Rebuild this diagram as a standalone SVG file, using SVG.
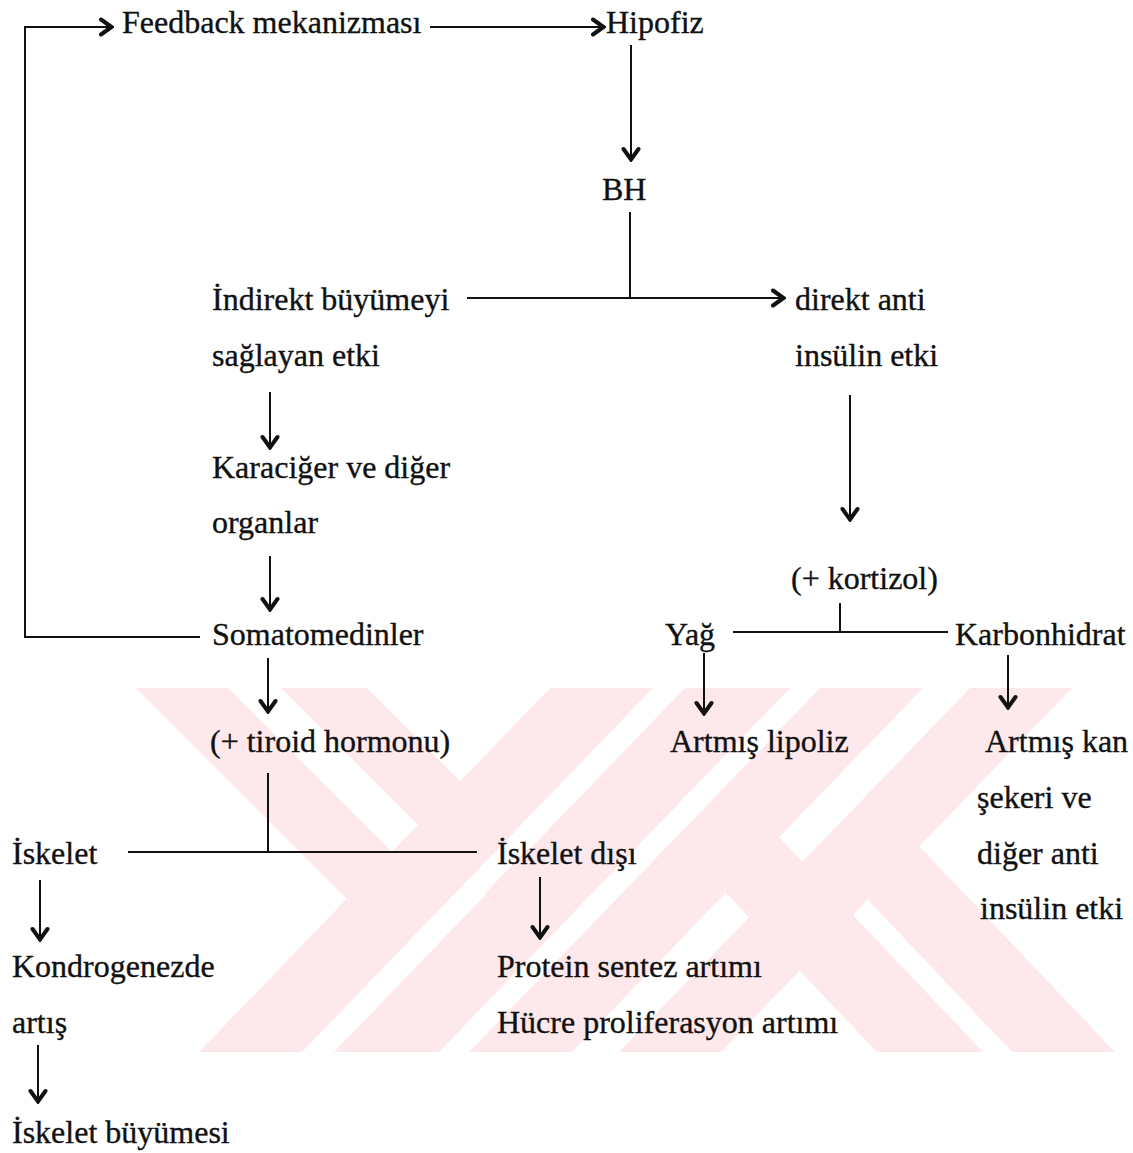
<svg xmlns="http://www.w3.org/2000/svg" width="1133" height="1153" viewBox="0 0 1133 1153">
<style>
  .t { font-family: "Liberation Serif", "Times New Roman", serif; font-size: 32px; fill: #111; stroke: #111; stroke-width: 0.35; }
  .c { fill: none; stroke: #111; stroke-width: 2; }
  .wm { fill: #fde8ec; stroke: none; }
  .gap { fill: #ffffff; stroke: none; }
</style>
<defs>
  <marker id="ah" viewBox="-14 -10 16 20" refX="0" refY="0" markerWidth="16" markerHeight="20" markerUnits="userSpaceOnUse" orient="auto">
    <path d="M-11,-7.5 L-0.5,0 L-11,7.5" fill="none" stroke="#111" stroke-width="4" stroke-linejoin="miter" stroke-linecap="round"/>
  </marker>
</defs>
<rect width="1133" height="1153" fill="#ffffff"/>
<g id="watermark">
  <polygon class="wm" points="136,688 228,688 439,899 347,899"/>
  <polygon class="wm" points="281,688 367,688 573,894 487,894"/>
  <polygon class="wm" points="725,892 779,837 983,1052 877,1052"/>
  <polygon class="wm" points="868,900 919,846 1115,1052 1012,1052"/>
  <polygon class="gap" points="653,688 683,688 332,1052 302,1052"/>
  <polygon class="wm" points="550,688 653,688 302,1052 199,1052"/>
  <polygon class="wm" points="685,688 790,688 439,1052 334,1052"/>
  <polygon class="wm" points="820,688 923,688 572,1052 469,1052"/>
  <polygon class="gap" points="825,905 855,905 715,1052 685,1052"/>
  <polygon class="wm" points="970,688 1072,688 721,1052 619,1052"/>
</g>
<g id="connectors">
  <path class="c" d="M200,637 H25 V27 H112" marker-end="url(#ah)"/>
  <path class="c" d="M430,27 H604" marker-end="url(#ah)"/>
  <path class="c" d="M631,45 V160" marker-end="url(#ah)"/>
  <path class="c" d="M630,212 V298"/>
  <path class="c" d="M467,298 H784" marker-end="url(#ah)"/>
  <path class="c" d="M270,392 V448" marker-end="url(#ah)"/>
  <path class="c" d="M270,556 V610" marker-end="url(#ah)"/>
  <path class="c" d="M850,395 V520" marker-end="url(#ah)"/>
  <path class="c" d="M840,603 V632"/>
  <path class="c" d="M733,632 H948"/>
  <path class="c" d="M704,653 V714" marker-end="url(#ah)"/>
  <path class="c" d="M1008,655 V708" marker-end="url(#ah)"/>
  <path class="c" d="M268,658 V712" marker-end="url(#ah)"/>
  <path class="c" d="M268,773 V852"/>
  <path class="c" d="M128,852 H477"/>
  <path class="c" d="M40,880 V940" marker-end="url(#ah)"/>
  <path class="c" d="M540,877 V938" marker-end="url(#ah)"/>
  <path class="c" d="M38,1045 V1102" marker-end="url(#ah)"/>
</g>
<g id="n-feedback"><text class="t" x="122" y="33">Feedback mekanizması</text></g>
<g id="n-hipofiz"><text class="t" x="606" y="33">Hipofiz</text></g>
<g id="n-bh"><text class="t" x="602" y="200">BH</text></g>
<g id="n-indirekt"><text class="t" x="212" y="310">İndirekt büyümeyi</text><text class="t" x="212" y="366">sağlayan etki</text></g>
<g id="n-direkt"><text class="t" x="795" y="310">direkt anti</text><text class="t" x="795" y="366">insülin etki</text></g>
<g id="n-karaciger"><text class="t" x="212" y="478">Karaciğer ve diğer</text><text class="t" x="212" y="533">organlar</text></g>
<g id="n-kortizol"><text class="t" x="791" y="589">(+ kortizol)</text></g>
<g id="n-somatomedinler"><text class="t" x="212" y="645">Somatomedinler</text></g>
<g id="n-yag"><text class="t" x="665" y="645">Yağ</text></g>
<g id="n-karbonhidrat"><text class="t" x="955" y="645">Karbonhidrat</text></g>
<g id="n-tiroid"><text class="t" x="210" y="752">(+ tiroid hormonu)</text></g>
<g id="n-lipoliz"><text class="t" x="670" y="752">Artmış lipoliz</text></g>
<g id="n-kansekeri"><text class="t" x="985" y="752">Artmış kan</text><text class="t" x="977" y="808">şekeri ve</text><text class="t" x="977" y="864">diğer anti</text><text class="t" x="980" y="919">insülin etki</text></g>
<g id="n-iskelet"><text class="t" x="12" y="864">İskelet</text></g>
<g id="n-iskeletdisi"><text class="t" x="497" y="864">İskelet dışı</text></g>
<g id="n-kondrogenez"><text class="t" x="12" y="977">Kondrogenezde</text><text class="t" x="12" y="1033">artış</text></g>
<g id="n-protein"><text class="t" x="497" y="977">Protein sentez artımı</text><text class="t" x="497" y="1033">Hücre proliferasyon artımı</text></g>
<g id="n-buyume"><text class="t" x="12" y="1143">İskelet büyümesi</text></g>
</svg>
